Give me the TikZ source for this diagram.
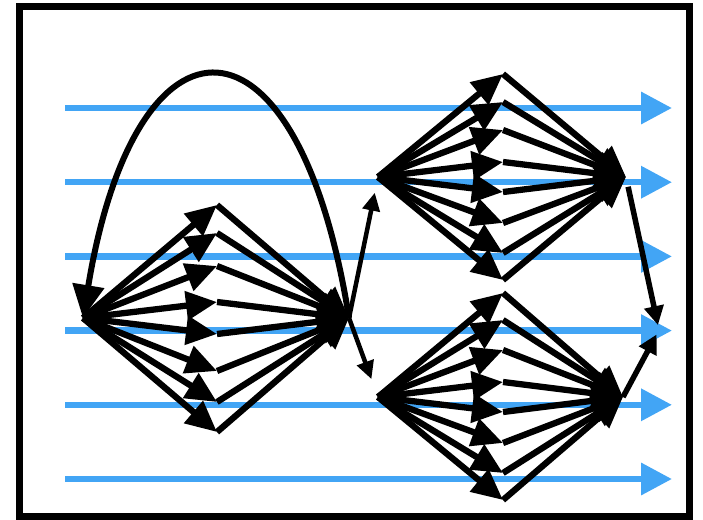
\documentclass[tikz,border=0pt]{standalone}
\usepackage{tikz}
\usetikzlibrary{calc,arrows.meta,positioning}
\definecolor{flowblue}{HTML}{42A5F5}

\begin{document}
\begin{tikzpicture}[x=1pt, y=-1pt,
    flow/.style={line width=6.5pt, flowblue, -{Triangle[length=31pt, width=31pt]}},
    fan/.style={line width=6.3pt, -{Triangle[length=31pt, width=28pt]}},
    link/.style={line width=4.5pt, -{Triangle[length=18pt, width=17pt]}},
    merge/.style={line width=5.5pt, -{Triangle[length=19pt, width=19pt]}},
    loopback/.style={line width=6pt, -{Triangle[length=33pt, width=31pt]}}
  ]
  \useasboundingbox (0,0) rectangle (703,519);

  % --- Frame ---
  \draw[line width=7pt] (19.5,6.7) rectangle (689,516);

  % --- Blue flow lines ---
  \foreach \y [count=\k] in {108,182.2,256.4,330.6,404.8,479} {
    \coordinate (S\k) at (65,\y);
    \coordinate (E\k) at (672,\y);
    \draw[flow] (S\k) -- (E\k);
  }

  % --- Left diamond ---
  \coordinate (L1) at (83,318);
  \coordinate (R1) at (349,318);
  \foreach \dy [count=\k] in {-113,-85,-52,-16,16,53,84,114} {
    \coordinate (M1\k) at (217,{318+\dy});
    \draw[fan] (L1) -- (M1\k);
    \draw[fan] (M1\k) -- (R1);
  }

  % --- Upper right diamond ---
  \coordinate (L2) at (378,177);
  \coordinate (R2) at (626,177);
  \foreach \dy [count=\k] in {-103,-75,-47,-15,15,46,76,103} {
    \coordinate (M2\k) at (503,{177+\dy});
    \draw[fan] (L2) -- (M2\k);
    \draw[fan] (M2\k) -- (R2);
  }

  % --- Lower right diamond ---
  \coordinate (L3) at (378,397);
  \coordinate (R3) at (623,397);
  \foreach \dy [count=\k] in {-104,-77,-47,-15,15,46,76,103} {
    \coordinate (M3\k) at (503,{397+\dy});
    \draw[fan] (L3) -- (M3\k);
    \draw[fan] (M3\k) -- (R3);
  }

  % --- Links between diamonds ---
  \draw[link, shorten >=16pt] (R1) -- (L2);
  \draw[link, shorten >=19pt] (R1) -- (L3);

  % --- Merge on the right ---
  \coordinate (J) at (659,330);
  \draw[merge, shorten <=10pt, shorten >=5pt] (R2) -- (J);
  \draw[merge, shorten >=5pt] (R3) -- (J);

  % --- Loop back over the left diamond ---
  \draw[loopback] (R1) .. controls (298,-4) and (136,-4) .. (L1);
\end{tikzpicture}
\end{document}
